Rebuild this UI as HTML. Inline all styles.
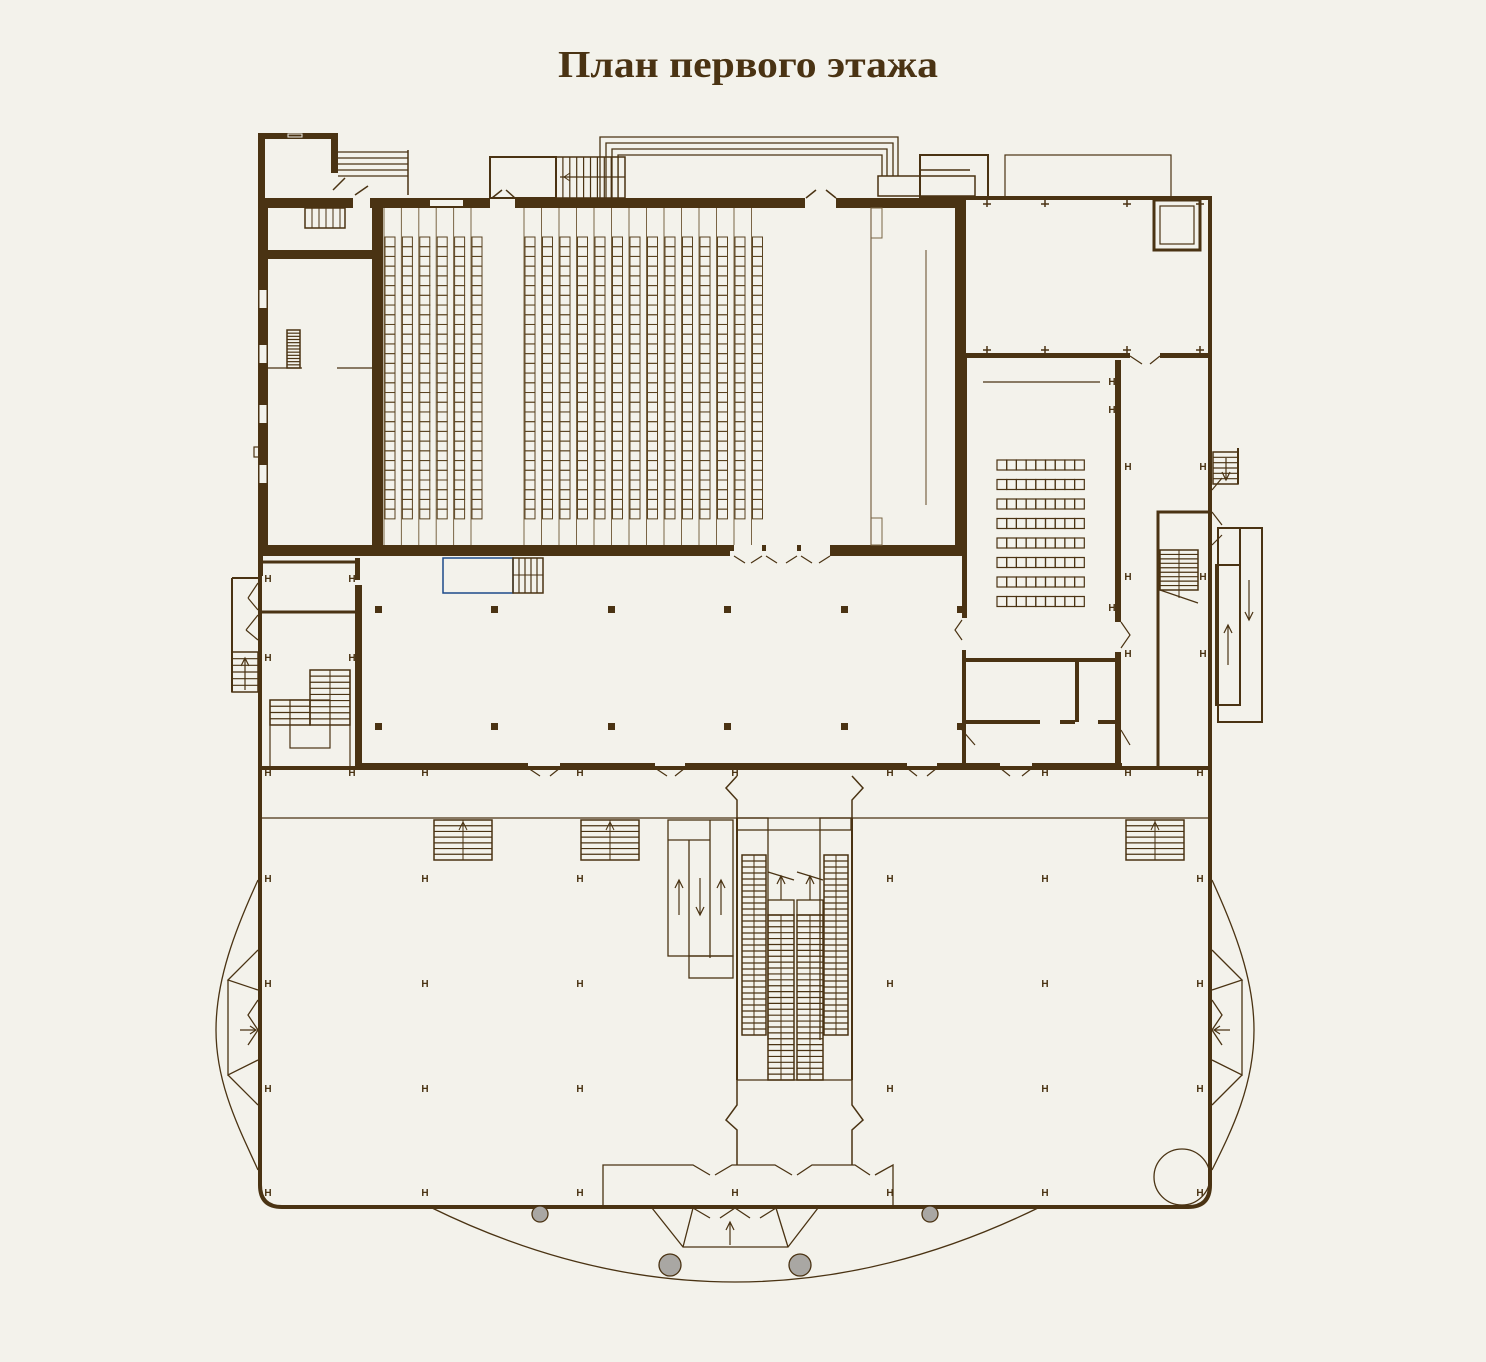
<!DOCTYPE html>
<html><head><meta charset="utf-8">
<style>
html,body{margin:0;padding:0;background:#f3f2eb;}
svg{display:block}
</style></head>
<body>
<svg id="s" width="1486" height="1362" viewBox="0 0 1486 1362" xmlns="http://www.w3.org/2000/svg">
<rect width="1486" height="1362" fill="#f3f2eb"/>
<text x="748" y="77" text-anchor="middle" font-family="Liberation Serif, serif" font-weight="bold" font-size="38" fill="#4a3313" textLength="380" lengthAdjust="spacingAndGlyphs">План первого этажа</text>
<g id="g" stroke="#4a3313" fill="none" stroke-linecap="butt"></g>
</svg>
<script>
var C='#4a3313',L='#6b5535';
var o='';
function R(x,y,w,h,f){o+='<rect x="'+x+'" y="'+y+'" width="'+w+'" height="'+h+'" fill="'+(f||C)+'" stroke="none"/>';}
function B(x,y,w,h,sw,c){o+='<rect x="'+x+'" y="'+y+'" width="'+w+'" height="'+h+'" fill="none" stroke="'+(c||C)+'" stroke-width="'+(sw||1.5)+'"/>';}
function Ln(x1,y1,x2,y2,sw,c){o+='<line x1="'+x1+'" y1="'+y1+'" x2="'+x2+'" y2="'+y2+'" stroke="'+(c||C)+'" stroke-width="'+(sw||1.5)+'"/>';}
function P(d,sw,c,f){o+='<path d="'+d+'" stroke="'+(c||C)+'" stroke-width="'+(sw||1.5)+'" fill="'+(f||'none')+'"/>';}
function H(x,y){o+='<text x="'+x+'" y="'+y+'" font-family="Liberation Sans,sans-serif" font-size="10" font-weight="bold" fill="'+C+'" text-anchor="middle" stroke="none">H</text>';}
function stairH(x,y,w,h,n){B(x,y,w,h,1.5);for(var i=1;i<n;i++){var yy=y+h*i/n;Ln(x,yy,x+w,yy,1.2);}}
function stairV(x,y,w,h,n){B(x,y,w,h,1.5);for(var i=1;i<n;i++){var xx=x+w*i/n;Ln(xx,y,xx,y+h,1.2);}}
function arrowUp(x,y1,y2){Ln(x,y1,x,y2,1.2);P('M'+(x-4)+','+(y2+8)+' L'+x+','+y2+' L'+(x+4)+','+(y2+8),1.2);}
function arrowDn(x,y1,y2){Ln(x,y1,x,y2,1.2);P('M'+(x-4)+','+(y2-8)+' L'+x+','+y2+' L'+(x+4)+','+(y2-8),1.2);}

// top-left small room
R(258,133,80,6);R(258,133,7,70);R(331,133,7,40);B(288,134,14,3,1,'#f3f2eb');
for(var i=0;i<5;i++)Ln(338,152+i*6,408,152+i*6,1.2);Ln(408,150,408,195,1.5);
P('M333,190 L345,178',1.5);P('M355,195 L368,186',1.5);
// top thick wall
R(258,198,95,10);R(370,198,120,10);R(430,200,33,6,'#f3f2eb');
R(515,198,290,10);R(836,198,130,10);
P('M492,198 L502,190 M515,198 L506,190',1.5);P('M806,198 L816,190 M836,198 L826,190',1.5);
stairH(305,208,40,20,1);for(var i=1;i<6;i++)Ln(305+i*7,208,305+i*7,228,1);
// auditorium walls
R(372,208,11,340);R(955,198,11,358);R(258,545,472,11);R(830,545,136,11);
R(730,545,4,6);R(762,545,4,6);R(797,545,4,6);
P('M734,556 L745,563 M762,556 L751,563 M766,556 L777,563 M797,556 L786,563 M801,556 L812,563 M830,556 L819,563',1.2);
// left annex
R(258,208,10,340);R(268,250,105,9);
[290,345,405,465].forEach(function(y){R(259,y,8,18,'#f3f2eb');Ln(259,y,259,y+18,1);Ln(267,y,267,y+18,1);});
B(254,447,5,10,1.2);
stairH(287,330,13,38,12);Ln(268,368,302,368,1.2);Ln(337,368,372,368,1.2);
// seats
for(var c=0;c<20;c++){
 var x=c<6?385+c*17.4:525+(c-6)*17.5;
 Ln(x-1,208,x-1,545,1,'#7a6545');
 for(var r=0;r<29;r++){B(x,237+r*9.72,10,9.72,1,'#5a4320');}
}
// stage
Ln(871,208,871,545,1.2,'#7a6545');B(871,208,11,30,1,'#7a6545');B(871,518,11,27,1,'#7a6545');
P('M926,250 L926,505',1.2,'#7a6545');
// top middle constructions
B(490,157,66,41,2);stairV(556,157,69,41,10);Ln(560,177,625,177,1.2);P('M570,173 L564,177 L570,181',1);
[[600,137,898],[606,143,893],[612,149,887],[618,155,882]].forEach(function(a){P('M'+a[0]+',198 L'+a[0]+','+a[1]+' L'+a[2]+','+a[1]+' L'+a[2]+',176',1.3);});
B(878,176,97,20,1.5);B(920,155,68,42,2);Ln(920,170,970,170,1.5);B(1005,155,166,42,1.2);
// right block
R(1208,196,4,575);R(965,196,247,4);R(965,353,165,5);R(1160,353,50,5);
B(1154,200,46,50,3);B(1160,206,34,38,1.2);
[987,1045,1127,1200].forEach(function(x){Ln(x-4,204,x+4,204,1.5);Ln(x,200,x,207,1.5);Ln(x-4,350,x+4,350,1.5);Ln(x,346,x,353,1.5);});
P('M1130,356 L1142,364 M1160,356 L1150,364',1.2);
R(1115,360,6,262);R(1115,652,6,115);R(962,358,5,260);R(962,650,4,118);
Ln(983,382,1100,382,1.2);
for(var r=0;r<8;r++)for(var c=0;c<9;c++)B(997+c*9.7,460+r*19.5,9.7,10,1.2);
R(965,658,150,4);R(1075,660,4,62);R(965,720,75,4);R(1060,720,15,4);R(1098,720,17,4);
P('M962,620 L955,630 L962,640 M1121,622 L1130,635 L1121,648 M962,730 L975,745 M1121,730 L1130,745',1.2);
// right tower
B(1158,512,52,256,3);stairH(1160,550,38,40,9);Ln(1179,550,1179,598,1);P('M1160,590 L1198,603',1.2);
stairH(1213,452,25,32,6);Ln(1238,448,1238,484,2);arrowDn(1226,458,480);
B(1218,528,44,194,2);B(1216,565,24,140,2);Ln(1240,528,1240,705,2);arrowDn(1249,580,620);arrowUp(1228,665,625);
P('M1212,490 L1222,478 M1212,512 L1222,525 M1212,545 L1222,535',1.2);
// H marks right
[[1128,470],[1203,470],[1128,580],[1203,580],[1128,657],[1203,657],[1112,385],[1112,413],[1112,611]].forEach(function(a){H(a[0],a[1]);});
// lower hall
R(355,585,7,183);R(355,558,5,22);R(258,556,5,20);
R(358,763,170,5);R(560,763,95,5);R(685,763,222,5);R(937,763,63,5);R(1032,763,90,5);
P('M528,768 L540,776 M560,768 L550,776 M655,768 L667,776 M685,768 L675,776 M907,768 L917,776 M937,768 L927,776 M1000,768 L1010,776 M1032,768 L1022,776',1.2);
[378,494,611,727,844,960].forEach(function(x){R(x-3,606,7,7);R(x-3,723,7,7);});
o+='<rect x="443" y="558" width="70" height="35" fill="none" stroke="#1d4a8a" stroke-width="1.5"/>';
stairV(513,558,30,35,5);Ln(513,575,543,575,1);
// left rooms
Ln(260,562,355,562,3);Ln(260,612,355,612,3);R(258,556,4,212);
stairH(232,652,26,40,6);Ln(232,578,232,692,2);Ln(232,578,258,578,2);arrowUp(245,690,658);
P('M258,583 L248,598 M258,610 L248,598 M258,615 L246,630 M258,640 L246,630',1.2);
stairH(310,670,40,55,9);stairH(270,700,40,25,4);Ln(330,670,330,700,1);B(290,700,40,48,1.2);Ln(270,700,270,768,1.2);Ln(350,670,350,768,1.2);
[[268,582],[352,582],[268,661],[352,661],[268,776],[352,776],[425,776],[580,776],[735,776],[890,776],[1045,776],[1128,776],[1200,776]].forEach(function(a){H(a[0],a[1]);});
// corridor & lobby
R(258,766,954,4);Ln(258,818,1210,818,1.2);
P('M260,768 L260,1185 Q260,1207 282,1207 L1188,1207 Q1210,1207 1210,1185 L1210,770',4);
P('M258,880 C235,930 216,980 216,1030 C216,1085 240,1130 258,1170',1.3);
P('M1212,880 C1235,930 1254,980 1254,1030 C1254,1085 1232,1130 1212,1170',1.3);
P('M258,950 L228,980 L258,990 M228,980 L228,1075 L258,1060 M228,1075 L258,1105 M258,1000 L248,1015 L258,1030 L248,1045',1.3);
P('M1212,950 L1242,980 L1212,990 M1242,980 L1242,1075 L1212,1060 M1242,1075 L1212,1105 M1212,1000 L1222,1015 L1212,1030 L1222,1045',1.3);
P('M240,1030 L256,1030 M250,1026 L256,1030 L250,1034',1.2);P('M1230,1030 L1214,1030 M1220,1026 L1214,1030 L1220,1034',1.2);
o+='<circle cx="1182" cy="1177" r="28" fill="none" stroke="'+C+'" stroke-width="1.3"/>';
// bottom
P('M430,1207 Q735,1357 1040,1207',1.3);
[[540,1214,8],[930,1214,8],[670,1265,11],[800,1265,11]].forEach(function(a){o+='<circle cx="'+a[0]+'" cy="'+a[1]+'" r="'+a[2]+'" fill="#a9a7a3" stroke="'+C+'" stroke-width="1.3"/>';});
P('M603,1207 L603,1165 L693,1165 L710,1175 M715,1175 L732,1165 L775,1165 L792,1175 M797,1175 L812,1165 L855,1165 L870,1175 M875,1175 L893,1165 L893,1207',1.3);
P('M652,1208 L683,1247 L788,1247 L818,1208 M693,1208 L683,1247 M776,1208 L788,1247 M693,1208 L710,1218 M776,1208 L760,1218 M735,1208 L720,1218 M735,1208 L750,1218',1.3);
arrowUp(730,1245,1222);
// central stairs
[[434,820],[581,820],[1126,820]].forEach(function(a){stairH(a[0],a[1],58,40,7);Ln(a[0]+29,a[1],a[0]+29,a[1]+40,1);P('M'+(a[0]+25)+','+(a[1]+10)+' L'+(a[0]+29)+','+(a[1]+2)+' L'+(a[0]+33)+','+(a[1]+10),1);});
B(668,820,65,136,1.3);Ln(668,840,710,840,1.3);Ln(689,840,689,956,1.3);Ln(710,820,710,958,1.3);B(689,956,44,22,1.3);
arrowUp(679,915,880);arrowDn(700,878,915);arrowUp(721,915,880);
P('M737,1165 L737,1130 L726,1120 L737,1105 L737,1080 M737,820 L737,800 L726,788 L737,776',1.5);
P('M852,1165 L852,1130 L863,1120 L852,1105 L852,1080 M852,820 L852,800 L863,788 L852,776',1.5);
Ln(737,818,737,1080,2);Ln(852,818,852,1080,2);
B(737,818,31,12,1.3);B(820,818,31,12,1.3);Ln(768,830,820,830,1.3);
stairH(742,855,24,180,30);stairH(824,855,24,180,30);Ln(754,855,754,1035,1);Ln(836,855,836,1035,1);
Ln(768,830,768,1040,1.3);Ln(820,830,820,1040,1.3);
stairH(768,915,26,165,28);stairH(797,915,26,165,28);Ln(781,915,781,1080,1);Ln(810,915,810,1080,1);
B(768,900,26,15,1.3);B(797,900,26,15,1.3);P('M768,872 L794,880 M797,872 L823,880',1.3);
arrowUp(781,900,876);arrowUp(810,900,876);Ln(737,1080,852,1080,1.3);
[268,425,580,890,1045,1200].forEach(function(x){[882,987,1092,1196].forEach(function(y){H(x,y);});});
H(735,1196);
document.getElementById('g').innerHTML=o;
</script>
</body></html>
